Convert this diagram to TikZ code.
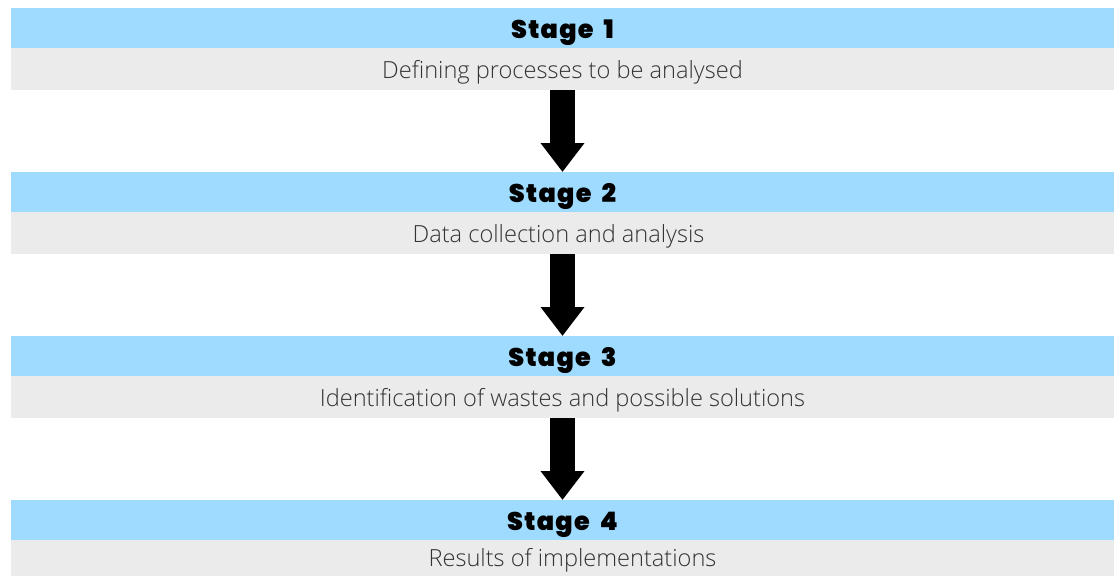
\documentclass[tikz,border=0pt]{standalone}
\usepackage{fontspec}
\usetikzlibrary{arrows.meta}
\newfontfamily\titlefont{Poppins}[UprightFont={* Black}, LetterSpace=5, WordSpace=1.8]
\newfontfamily\bodyfont{Open Sans}[UprightFont={* Light}]
\definecolor{barblue}{HTML}{9FDBFE}
\definecolor{bargray}{HTML}{EBEBEB}
\definecolor{bodytext}{HTML}{333333}
\tikzset{
  titlebar/.style={fill=barblue, draw=none, minimum width=1103pt, minimum height=40pt,
    inner sep=0pt, anchor=north, text height=21pt, text depth=0pt,
    font=\titlefont\fontsize{25.5}{25.5}\selectfont, text=black},
  bodybar/.style={fill=bargray, draw=none, minimum width=1103pt, minimum height=42pt,
    inner sep=0pt, anchor=north, text height=18.6pt, text depth=0pt,
    font=\bodyfont\fontsize{23.6}{23.6}\selectfont, text=bodytext},
  flowarrow/.style={line width=24.5pt, -{Triangle[width=42pt,length=29pt]}, black}
}
\begin{document}
\begin{tikzpicture}[x=1pt,y=-1pt]
\useasboundingbox (0,0) rectangle (1114,576);
% stage 1
\node[titlebar] (t1) at (562.5,8) {Stage 1};
\node[bodybar]  (d1) at (562.5,48) {Defining processes to be analysed};
% stage 2
\node[titlebar] (t2) at (562.5,172) {Stage 2};
\node[bodybar]  (d2) at (562.5,212) {Data collection and analysis\hspace*{8pt}};
% stage 3
\node[titlebar] (t3) at (562.5,336) {Stage 3};
\node[bodybar]  (d3) at (562.5,376) {Identification of wastes and possible solutions};
% stage 4
\node[titlebar] (t4) at (562.5,500) {Stage 4};
\node[bodybar, minimum height=36pt, text height=17.4pt] (d4) at (562.5,540) {\hspace*{20pt}Results of implementations};
% arrows between stages
\draw[flowarrow] (d1.south) -- (t2.north);
\draw[flowarrow] (d2.south) -- (t3.north);
\draw[flowarrow] (d3.south) -- (t4.north);
\end{tikzpicture}
\end{document}
